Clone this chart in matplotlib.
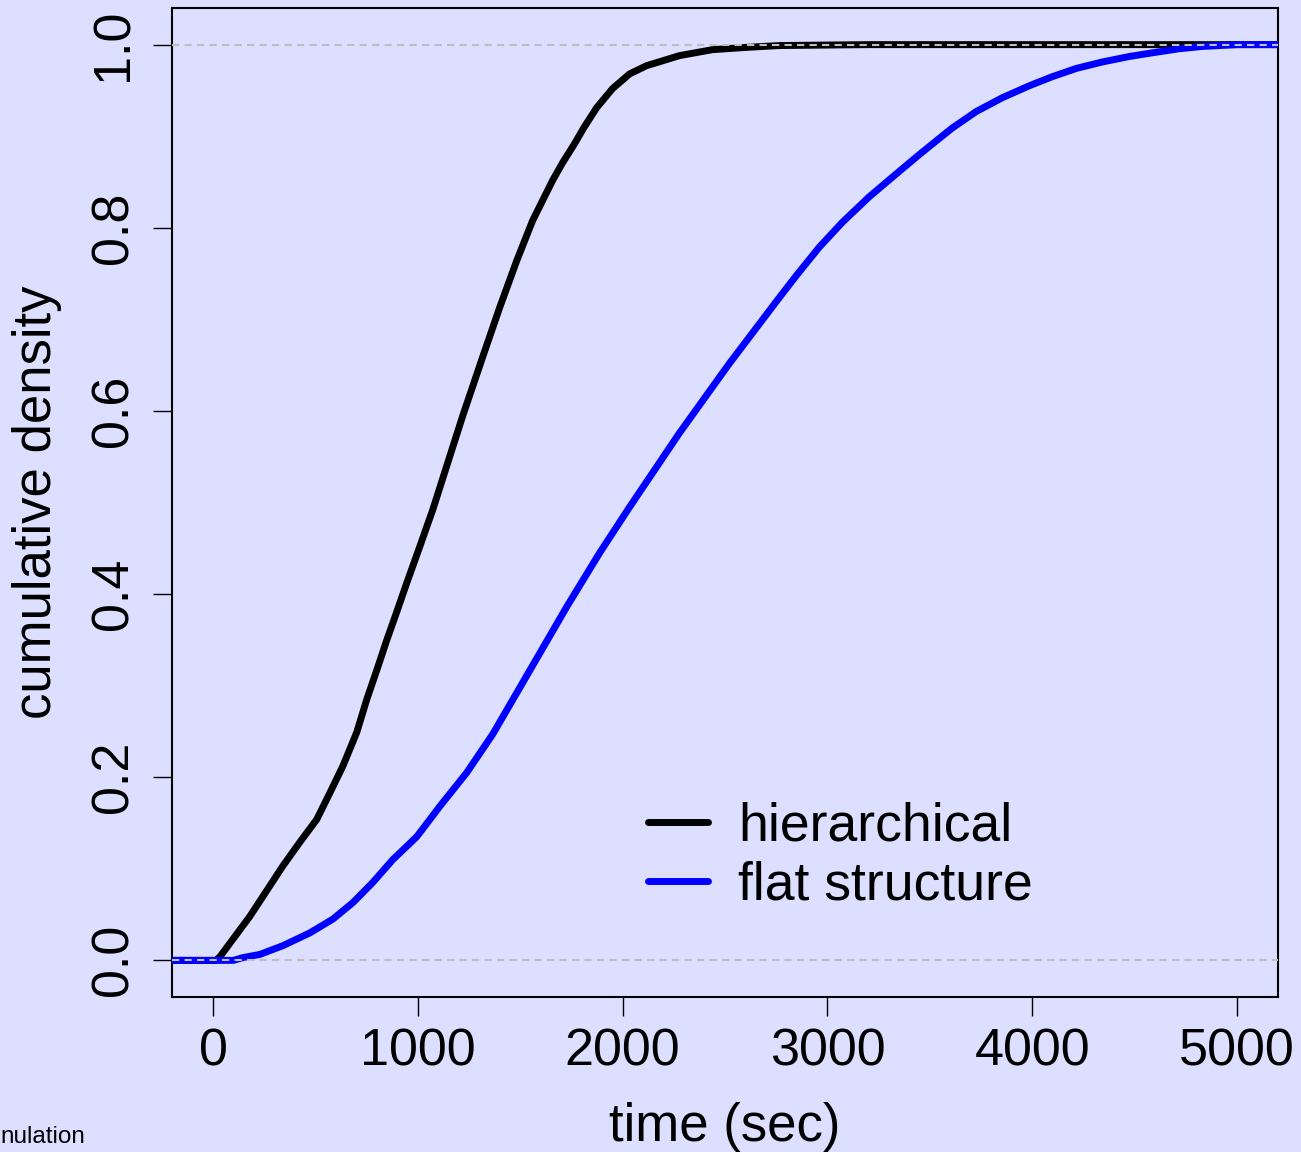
import matplotlib
matplotlib.use("Agg")
import matplotlib.pyplot as plt

# Data (ECDF curves)
hier_x = [-200, 15, 34, 180, 341, 424, 507, 571, 634, 702, 751, 800, 849, 898, 946,
          1010, 1073, 1220, 1317, 1400, 1483, 1561, 1659, 1707, 1766, 1810, 1873,
          1951, 2034, 2117, 2278, 2439, 2605, 2766, 3200, 5200]
hier_y = [0.0, 0.0, 0.004, 0.048, 0.103, 0.129, 0.154, 0.183, 0.212, 0.249, 0.285,
          0.317, 0.350, 0.381, 0.412, 0.452, 0.492, 0.595, 0.659, 0.713, 0.764,
          0.808, 0.852, 0.871, 0.892, 0.909, 0.931, 0.952, 0.968, 0.977, 0.988,
          0.9945, 0.997, 0.999, 1.0, 1.0]

flat_x = [-200, 100, 146, 229, 341, 473, 585, 683, 780, 878, 995, 1107, 1239, 1366,
          1483, 1727, 1888, 2034, 2278, 2522, 2766, 2849, 2961, 3073, 3205, 3337,
          3449, 3532, 3610, 3727, 3854, 3985, 4098, 4215, 4341, 4473, 4585, 4717,
          4829, 5000, 5200]
flat_y = [0.0, 0.0, 0.003, 0.0065, 0.016, 0.030, 0.045, 0.063, 0.085, 0.110, 0.135,
          0.168, 0.205, 0.247, 0.292, 0.386, 0.445, 0.495, 0.576, 0.652, 0.724,
          0.748, 0.779, 0.806, 0.834, 0.859, 0.880, 0.895, 0.909, 0.927, 0.942,
          0.955, 0.965, 0.974, 0.981, 0.987, 0.991, 0.9955, 0.998, 1.0, 1.0]

series_labels = ["hierarchical", "flat structure"]
x_ticks = [0, 1000, 2000, 3000, 4000, 5000]
y_ticks = [0.0, 0.2, 0.4, 0.6, 0.8, 1.0]
y_ticklabels = ["0.0", "0.2", "0.4", "0.6", "0.8", "1.0"]
ref_levels = [0.0, 1.0]

plt.rcParams['font.family'] = ['Liberation Sans', 'DejaVu Sans']
BG = "#DCDFFF"

fig = plt.figure(figsize=(13.01, 11.52), dpi=100, facecolor=BG)
ax = fig.add_axes([172/1301, 1 - 997/1152, (1278-172)/1301, (997-8)/1152])
ax.set_facecolor(BG)

ax.plot(hier_x, hier_y, color="black", lw=5, solid_capstyle="round",
        solid_joinstyle="round", label=series_labels[0], zorder=2)
ax.plot(flat_x, flat_y, color="#0000FF", lw=5, solid_capstyle="round",
        solid_joinstyle="round", label=series_labels[1], zorder=3)
for lv in ref_levels:
    ax.axhline(lv, color="#BEBEBE", lw=1.5, dashes=(3.5, 2.5), zorder=4)

ax.set_xlim(-200, 5200)
ax.set_ylim(-0.04, 1.04)
ax.set_xticks(x_ticks)
ax.set_yticks(y_ticks)
ax.set_yticklabels(y_ticklabels)
ax.tick_params(axis='both', direction='out', length=14, width=1.0,
               labelsize=37.5, color='black')
ax.tick_params(axis='x', pad=8)
ax.tick_params(axis='y', pad=10, labelrotation=90)
for lab in ax.get_yticklabels():
    lab.set_va('center')
for sp in ax.spines.values():
    sp.set_linewidth(1.5)

ax.set_xlabel("time (sec)", fontsize=38, labelpad=18)
ax.set_ylabel("cumulative density", fontsize=38, labelpad=20)

leg = ax.legend(loc='center left', bbox_to_anchor=(648/1301, 1 - 856/1152),
                bbox_transform=fig.transFigure, frameon=False, fontsize=38.5,
                handlelength=1.12, handletextpad=0.56, borderpad=0,
                borderaxespad=0, labelspacing=0.16)

fig.text(0.5/1301, 1 - 1137/1152, "nulation", ha='left', va='center', fontsize=17.5)

fig.savefig("out.png", dpi=100, facecolor=BG)
